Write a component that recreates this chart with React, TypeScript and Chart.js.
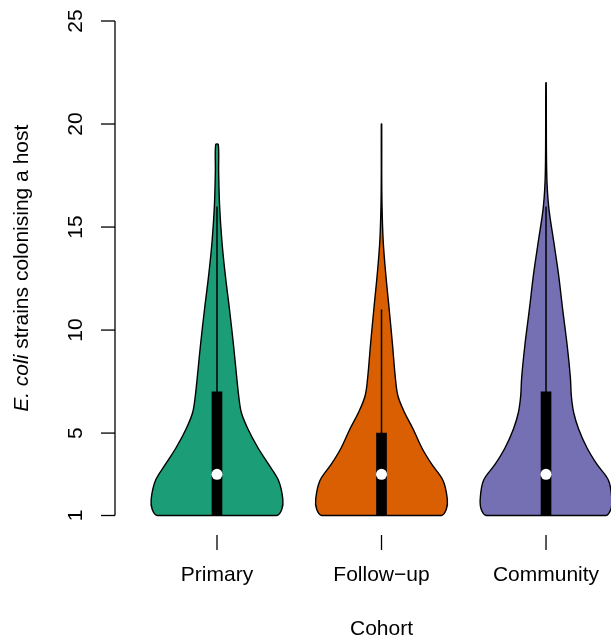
import React, { useEffect, useRef } from 'react';
import { Chart, registerables } from 'chart.js';

Chart.register(...registerables);

// ---- data ----
const cohorts = ['Primary', 'Follow\u2212up', 'Community'];
const colors = ['#1B9E77', '#D95F02', '#7570B3'];
const yTicks = [1, 5, 10, 15, 20, 25];

// kernel-density outline (relative half-width) at these levels
const densityLevels = [1, 1.3, 1.8, 2.7, 3.5, 4.3, 5.2, 6, 6.8, 7.7, 9.3, 11, 12.7, 14.3, 16, 17.7];
const primaryDensity = [0.91, 0.985, 1.0, 0.935, 0.78, 0.62, 0.47, 0.37, 0.33, 0.3, 0.25, 0.19, 0.125, 0.075, 0.04, 0.025];
const followUpDensity = [0.91, 0.985, 1.0, 0.935, 0.76, 0.61, 0.48, 0.35, 0.25, 0.21, 0.167, 0.117, 0.065, 0.026, 0.008, 0.003];
const communityDensity = [0.91, 0.985, 1.0, 0.95, 0.77, 0.62, 0.495, 0.42, 0.385, 0.37, 0.32, 0.253, 0.19, 0.117, 0.04, 0.01];
const densities = [primaryDensity, followUpDensity, communityDensity];
const maxValues = [19, 20, 22];
const topDensity = [0.02, 0.003, 0.003];

const q1 = [1, 1, 1];
const medians = [3, 3, 3];
const q3 = [7, 5, 7];
const upperWhisker = [16, 11, 16];

const VIOLIN_HALF = 0.4;
const FONT = '"Liberation Sans", Arial, Helvetica, sans-serif';

function violinPoints(i: number) {
  const cx = i + 1;
  const lv = [...densityLevels, maxValues[i]];
  const d = [...densities[i], topDensity[i]];
  const right = lv.map((y, k) => ({ x: cx + d[k] * VIOLIN_HALF, y }));
  const left = lv.map((y, k) => ({ x: cx - d[k] * VIOLIN_HALF, y })).reverse();
  return [{ x: cx, y: 1 }, ...right, ...left, { x: cx, y: 1 }];
}

const axesPlugin = {
  id: 'rAxes',
  afterDraw(chart: any) {
    const ctx = chart.ctx;
    const xs = chart.scales.x;
    const ys = chart.scales.y;
    const ax = chart.chartArea.left;
    ctx.save();
    ctx.strokeStyle = '#000';
    ctx.fillStyle = '#000';
    ctx.lineWidth = 1.3;
    // y axis
    ctx.beginPath();
    ctx.moveTo(ax, ys.getPixelForValue(yTicks[0]));
    ctx.lineTo(ax, ys.getPixelForValue(yTicks[yTicks.length - 1]));
    ctx.stroke();
    ctx.font = '21px ' + FONT;
    ctx.textAlign = 'center';
    ctx.textBaseline = 'alphabetic';
    yTicks.forEach((v) => {
      const py = ys.getPixelForValue(v);
      ctx.beginPath();
      ctx.moveTo(ax - 14, py);
      ctx.lineTo(ax, py);
      ctx.stroke();
      ctx.save();
      ctx.translate(82, py);
      ctx.rotate(-Math.PI / 2);
      ctx.fillText(String(v), 0, 0);
      ctx.restore();
    });
    // x axis ticks + labels
    const xAxisY = ys.getPixelForValue(1) + 19.5;
    cohorts.forEach((c, i) => {
      const px = xs.getPixelForValue(i + 1);
      ctx.beginPath();
      ctx.moveTo(px, xAxisY);
      ctx.lineTo(px, xAxisY + 15);
      ctx.stroke();
      ctx.fillText(c, px, 581);
    });
    // x title
    ctx.fillText('Cohort', xs.getPixelForValue(2), 635);
    // y title
    const italic = 'E. coli';
    const rest = ' strains colonising a host';
    ctx.font = 'italic 21px ' + FONT;
    const w1 = ctx.measureText(italic).width;
    ctx.font = '21px ' + FONT;
    const w2 = ctx.measureText(rest).width;
    const W = w1 + w2;
    const cy = ys.getPixelForValue((yTicks[0] + yTicks[yTicks.length - 1]) / 2);
    ctx.save();
    ctx.translate(28, cy);
    ctx.rotate(-Math.PI / 2);
    ctx.textAlign = 'left';
    ctx.font = 'italic 21px ' + FONT;
    ctx.fillText(italic, -W / 2, 0);
    ctx.font = '21px ' + FONT;
    ctx.fillText(rest, -W / 2 + w1, 0);
    ctx.restore();
    ctx.restore();
  },
};

export default function App() {
  const ref = useRef<HTMLCanvasElement | null>(null);
  useEffect(() => {
    if (!ref.current) return;
    const violinSets = cohorts.map((c, i) => ({
      type: 'line' as const,
      label: c,
      data: violinPoints(i),
      borderColor: '#000',
      borderWidth: 1.4,
      backgroundColor: colors[i],
      fill: 'shape',
      tension: 0.35,
      pointRadius: 0,
      borderJoinStyle: 'round',
      clip: false,
      order: 3,
    }));
    const whiskerData: any[] = [];
    cohorts.forEach((c, i) => {
      whiskerData.push({ x: i + 1, y: q3[i] }, { x: i + 1, y: upperWhisker[i] }, { x: i + 1.5, y: null });
    });
    const chart = new Chart(ref.current, {
      type: 'line',
      data: {
        datasets: [
          ...violinSets,
          {
            type: 'line',
            label: 'whiskers',
            data: whiskerData,
            borderColor: '#000',
            borderWidth: 1.5,
            pointRadius: 0,
            spanGaps: false,
            tension: 0,
            fill: false,
            clip: false,
            order: 2,
          },
          {
            type: 'bar',
            label: 'box',
            data: cohorts.map((c, i) => ({ x: i + 1, y: [q1[i], q3[i]] })),
            backgroundColor: '#000',
            borderWidth: 0,
            barThickness: 10,
            grouped: false,
            clip: false,
            order: 1,
          },
          {
            type: 'line',
            label: 'median',
            data: cohorts.map((c, i) => ({ x: i + 1, y: medians[i] })),
            showLine: false,
            pointRadius: 5.5,
            pointBackgroundColor: '#fff',
            pointBorderWidth: 0,
            clip: false,
            order: 0,
          },
        ] as any,
      },
      options: {
        animation: false,
        responsive: false,
        devicePixelRatio: 1,
        layout: { autoPadding: false, padding: { left: 115, top: 21, right: 0, bottom: 122.5 } },
        plugins: { legend: { display: false }, tooltip: { enabled: false } },
        scales: {
          x: { type: 'linear', min: 0.38, max: 3.395, offset: false, display: false, grid: { offset: false } },
          y: { type: 'linear', min: 1, max: 25, offset: false, display: false },
        },
      } as any,
      plugins: [axesPlugin],
    });
    return () => chart.destroy();
  }, []);
  return (
    <div style={{ position: 'fixed', left: 0, top: 0, width: 611, height: 638, background: '#fff', overflow: 'hidden' }}>
      <canvas ref={ref} width={611} height={638} style={{ display: 'block', width: 611, height: 638 }} />
    </div>
  );
}
